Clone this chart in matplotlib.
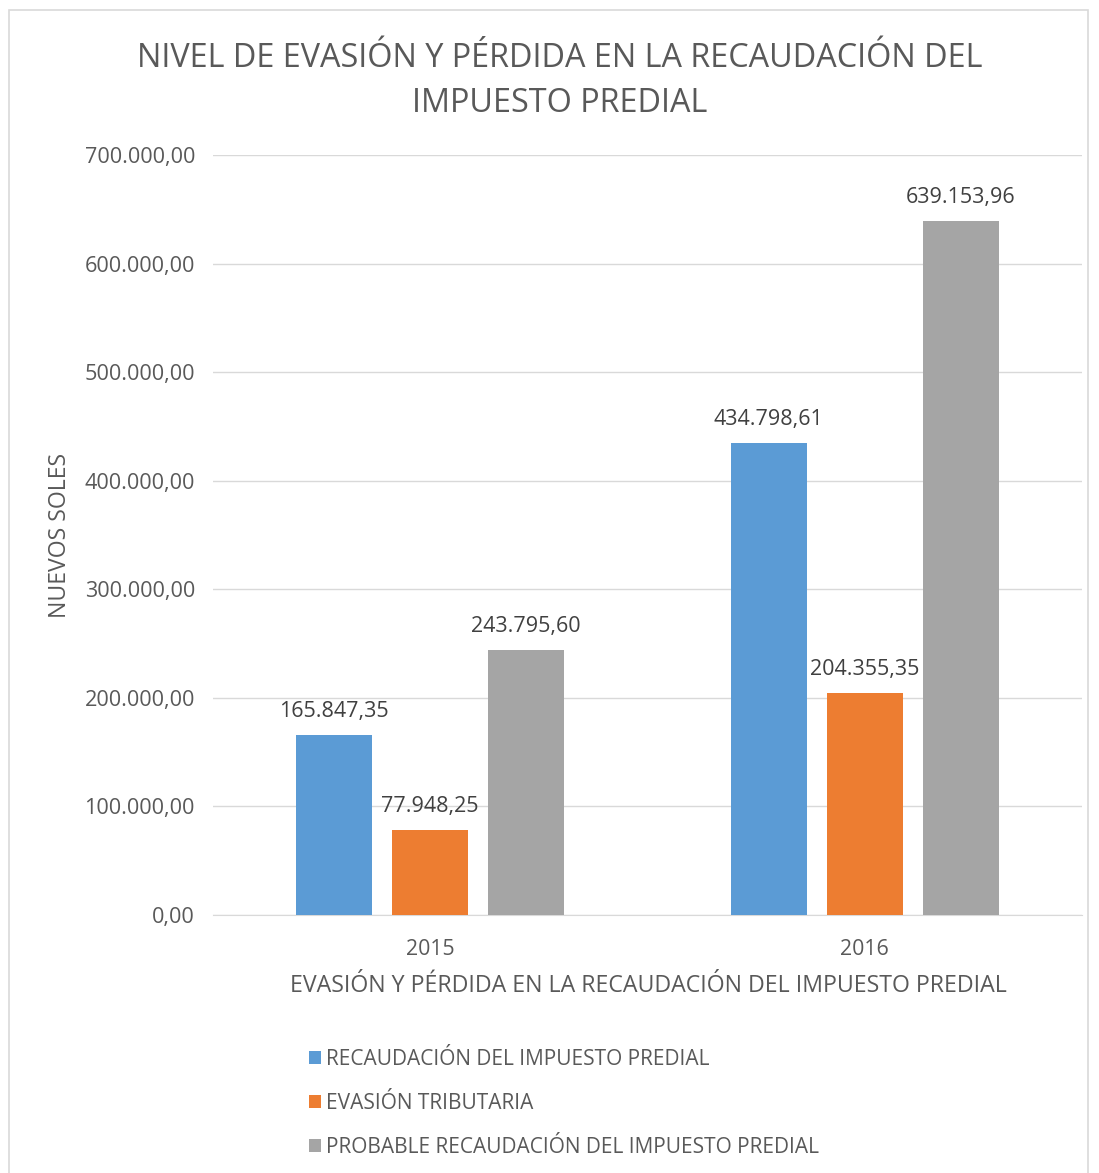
import matplotlib
matplotlib.use("Agg")
import matplotlib.pyplot as plt
from matplotlib.patches import Rectangle
import numpy as np

plt.rcParams['font.family'] = ['Open Sans', 'DejaVu Sans']

categories = ["2015", "2016"]
series_names = ["RECAUDACIÓN DEL IMPUESTO PREDIAL", "EVASIÓN TRIBUTARIA",
                "PROBABLE RECAUDACIÓN DEL IMPUESTO PREDIAL"]
recaudacion = [165847.35, 434798.61]
evasion = [77948.25, 204355.35]
probable = [243795.60, 639153.96]
colors = ["#5B9BD5", "#ED7D31", "#A5A5A5"]
yticks = [0, 100000, 200000, 300000, 400000, 500000, 600000, 700000]

def fmt(v):
    s = f"{v:,.2f}"
    return s.replace(",", "X").replace(".", ",").replace("X", ".")

W, H = 1099, 1173
fig = plt.figure(figsize=(W/100, H/100), dpi=100)
txt = "#595959"

# outer border
fig.patches.append(Rectangle((9/W, -0.01), (1088-9)/W, 1 - 10/H + 0.01,
                             transform=fig.transFigure, fill=False,
                             edgecolor="#D9D9D9", linewidth=1.2))

ax = fig.add_axes([213/W, 1 - 915/H, (1082-213)/W, (915-155)/H])
x = np.arange(len(categories))
bw = 0.175
offs = [-0.221, 0, 0.221]
for vals, c, o, name in zip([recaudacion, evasion, probable], colors, offs, series_names):
    ax.bar(x + o, vals, width=bw, color=c, label=name, zorder=3)
    for xi, v in zip(x + o, vals):
        ax.text(xi, v + 12000, fmt(v), ha="center", va="bottom", fontsize=15.5, color="#404040")

ax.set_xlim(-0.5, 1.5)
ax.set_ylim(0, 700000)
ax.set_yticks(yticks)
ax.set_yticklabels([fmt(v) for v in yticks], fontsize=15.6, color=txt)
ax.set_xticks(x)
ax.set_xticklabels(categories, fontsize=15.3, color=txt)
ax.tick_params(length=0, pad=13, axis="y")
ax.tick_params(length=0, pad=17, axis="x")
ax.grid(axis="y", color="#D9D9D9", linewidth=1, zorder=0)
for s in ["top", "right", "left"]:
    ax.spines[s].set_visible(False)
ax.spines["bottom"].set_color("#D9D9D9")

fig.text(560/W, 1 - 81/H, "NIVEL DE EVASIÓN Y PÉRDIDA EN LA RECAUDACIÓN DEL\nIMPUESTO PREDIAL",
         ha="center", va="center", fontsize=23.3, color=txt, linespacing=1.45)
fig.text(648/W, 1 - 986/H, "EVASIÓN Y PÉRDIDA EN LA RECAUDACIÓN DEL IMPUESTO PREDIAL",
         ha="center", va="center", fontsize=16.7, color=txt)
fig.text(60/W, 1 - 535/H, "NUEVOS SOLES", ha="center", va="center", rotation=90,
         fontsize=16.6, color=txt)

handles, labels = ax.get_legend_handles_labels()
leg = fig.legend(handles, labels, loc="upper left", bbox_to_anchor=(290/W, 1 - 1030/H),
                 frameon=False, fontsize=15, labelcolor=txt, handlelength=0.6,
                 handleheight=0.6, handletextpad=0.25, labelspacing=1.1)

fig.savefig("out.png", dpi=100, facecolor="white")
